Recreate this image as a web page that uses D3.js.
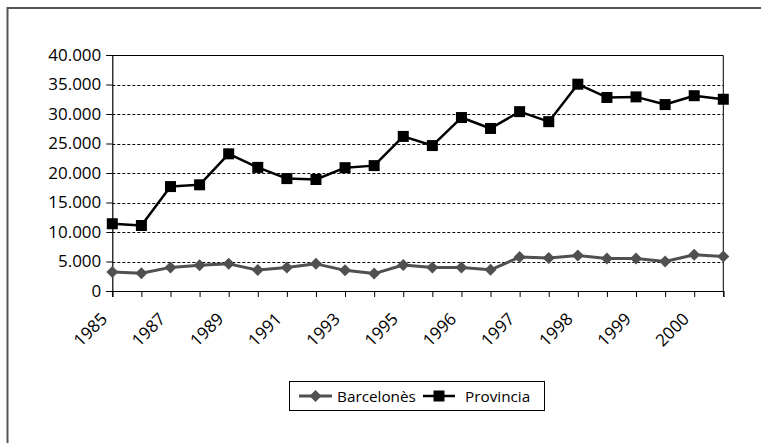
<!DOCTYPE html>
<html>
<head>
<meta charset="utf-8">
<script src="https://cdn.jsdelivr.net/npm/d3@7"></script>
<style>
  html, body { margin: 0; padding: 0; background: #fff; }
  svg { display: block; }
  text { font-family: "Open Sans", "Noto Sans", sans-serif; fill: #000; }
</style>
</head>
<body>
<svg id="chart" width="761" height="443"></svg>
<script>
// Periods: yearly up to 1995, then two readings per year
const categories = ["1985", "1986", "1987", "1988", "1989", "1990", "1991", "1992",
  "1993", "1994", "1995", "1995", "1996", "1996", "1997", "1997",
  "1998", "1998", "1999", "1999", "2000", "2000"];

const barcelones = [3200, 3000, 4000, 4350, 4600, 3550, 4000, 4600, 3500, 2950, 4400,
  4000, 4000, 3600, 5750, 5600, 6000, 5500, 5500, 5000, 6150, 5850];

const provincia = [11400, 11100, 17700, 18000, 23250, 20950, 19050, 18900, 20900, 21250, 26200,
  24650, 29400, 27550, 30400, 28700, 35050, 32800, 32900, 31600, 33100, 32500];

const yTicks = [0, 5000, 10000, 15000, 20000, 25000, 30000, 35000, 40000];

const seriesNames = ["Barcelonès", "Provincia"];

const svg = d3.select("#chart");
const plot = { left: 112.3, right: 723.3, top: 55, bottom: 291 };
const axisFont = 17;
const legendFont = 15.3;

// Outer frame (runs past the right and bottom edges)
svg.append("rect")
  .attr("x", 7.5).attr("y", 8).attr("width", 800).attr("height", 500)
  .attr("fill", "none").attr("stroke", "#555").attr("stroke-width", 2);

const x = d3.scalePoint()
  .domain(d3.range(categories.length))
  .range([plot.left, plot.right]);

const y = d3.scaleLinear()
  .domain([0, 40000])
  .range([plot.bottom, plot.top]);

const fmt = v => d3.format(",")(v).replace(/,/g, ".");

// Dashed horizontal gridlines
svg.append("g")
  .selectAll("line")
  .data(yTicks.filter(t => t > 0 && t < 40000))
  .join("line")
  .attr("x1", plot.left).attr("x2", plot.right)
  .attr("y1", d => Math.round(y(d)) + 0.5).attr("y2", d => Math.round(y(d)) + 0.5)
  .attr("stroke", "#000").attr("stroke-width", 1).attr("stroke-dasharray", "3,2");

// Plot frame: top and right edges
svg.append("path")
  .attr("d", `M${plot.left},${plot.top + 0.5}H${plot.right}V${plot.bottom}`)
  .attr("fill", "none").attr("stroke", "#000").attr("stroke-width", 1);

// Y axis
const yAxis = d3.axisLeft(y).tickValues(yTicks).tickFormat(fmt).tickSize(6).tickPadding(5);
const gy = svg.append("g")
  .attr("transform", `translate(${plot.left},0)`)
  .call(yAxis);
gy.select(".domain").attr("stroke", "#000").attr("stroke-width", 1.2);
gy.selectAll(".tick line").attr("stroke", "#000");
gy.selectAll(".tick text")
  .attr("font-size", axisFont).attr("font-family", "Open Sans, sans-serif").attr("fill", "#000");

// X axis
const xAxis = d3.axisBottom(x).tickSize(6).tickFormat("");
const gx = svg.append("g")
  .attr("transform", `translate(0,${plot.bottom})`)
  .call(xAxis);
gx.select(".domain").attr("stroke", "#000").attr("stroke-width", 1.2);
gx.selectAll(".tick line").attr("stroke", "#000");

// Rotated category labels on every other period
svg.append("g")
  .selectAll("text")
  .data(d3.range(0, categories.length, 2))
  .join("text")
  .attr("transform", i => `translate(${x(i) - 4},${plot.bottom + 29}) rotate(-45)`)
  .attr("text-anchor", "end")
  .attr("font-size", axisFont)
  .text(i => categories[i]);

// Lines and markers
const line = d3.line().x((d, i) => x(i)).y(d => y(d));

const greySeries = "#505050";

svg.append("path").datum(barcelones)
  .attr("d", line).attr("fill", "none")
  .attr("stroke", greySeries).attr("stroke-width", 3).attr("stroke-linejoin", "round");

svg.append("path").datum(provincia)
  .attr("d", line).attr("fill", "none")
  .attr("stroke", "#000").attr("stroke-width", 2.5).attr("stroke-linejoin", "round");

const diamond = d3.symbol().type(d3.symbolSquare).size(72);

svg.append("g").selectAll("path")
  .data(barcelones)
  .join("path")
  .attr("d", diamond)
  .attr("transform", (d, i) => `translate(${x(i)},${y(d)}) rotate(45)`)
  .attr("fill", greySeries);

svg.append("g").selectAll("rect")
  .data(provincia)
  .join("rect")
  .attr("x", (d, i) => x(i) - 5.5).attr("y", d => y(d) - 5.5)
  .attr("width", 11).attr("height", 11)
  .attr("fill", "#000");

// Legend
const lg = svg.append("g");
lg.append("rect")
  .attr("x", 289.5).attr("y", 381.5).attr("width", 255).attr("height", 29)
  .attr("fill", "#fff").attr("stroke", "#000").attr("stroke-width", 1);

const legendItems = [
  { name: seriesNames[0], x0: 299, x1: 332, tx: 337, color: greySeries, shape: "diamond" },
  { name: seriesNames[1], x0: 423, x1: 455, tx: 465, color: "#000", shape: "square" }
];
const ly = 396;
legendItems.forEach(it => {
  lg.append("line")
    .attr("x1", it.x0).attr("x2", it.x1).attr("y1", ly).attr("y2", ly)
    .attr("stroke", it.color).attr("stroke-width", it.shape === "diamond" ? 3 : 2.5);
  const cx = (it.x0 + it.x1) / 2;
  if (it.shape === "diamond") {
    lg.append("path").attr("d", diamond)
      .attr("transform", `translate(${cx},${ly}) rotate(45)`)
      .attr("fill", it.color);
  } else {
    lg.append("rect").attr("x", cx - 5.5).attr("y", ly - 5.5)
      .attr("width", 11).attr("height", 11).attr("fill", it.color);
  }
  lg.append("text")
    .attr("x", it.tx).attr("y", ly + 5.5)
    .attr("font-size", legendFont)
    .text(it.name);
});
</script>
</body>
</html>
